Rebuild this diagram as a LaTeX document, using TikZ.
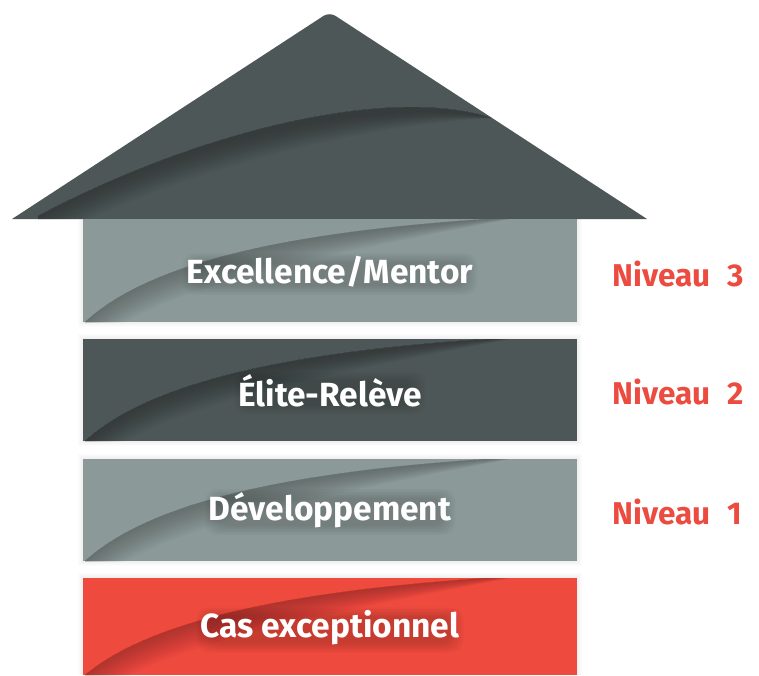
\documentclass[tikz,border=0pt]{standalone}
\usepackage{fontspec}
\setmainfont{Fira Sans}
\definecolor{slate}{HTML}{4E5757}
\definecolor{sage}{HTML}{8B9A99}
\definecolor{tomato}{HTML}{EE4A3E}
\definecolor{lvl}{HTML}{EC4B3F}
\pgfdeclarelayer{bg}
\pgfdeclarelayer{glow}
\pgfsetlayers{bg,glow,main}
\begin{document}
\begin{tikzpicture}[x=1pt,y=-1pt,
  blockbox/.style={rectangle, inner sep=0pt, minimum width=494pt, anchor=north west},
  blocktext/.style={text=white, inner sep=2pt, font=\fontsize{33.5}{36}\selectfont\bfseries},
  leveltext/.style={text=lvl, font=\fontsize{31.5}{34}\selectfont\bfseries, anchor=west}]
\begin{pgfonlayer}{bg}
\useasboundingbox (0,0) rectangle (759,675);
% soft drop shadows
\foreach \s in {1,...,5}{
  \fill[black,opacity=0.012] (83-\s,219) rectangle (577+\s,322+\s);
  \fill[black,opacity=0.012] (83-\s,339-\s) rectangle (577+\s,441+\s);
  \fill[black,opacity=0.012] (83-\s,459-\s) rectangle (577+\s,561+\s);
  \fill[black,opacity=0.012] (83-\s,578-\s) rectangle (577+\s,675);
}
% roof
\fill[slate] (12,219) [rounded corners=7pt] -- (329.5,12) [sharp corners] -- (647,219) -- cycle;
\begin{scope}
  \clip (12,219) -- (329.5,12) -- (647,219) -- cycle;
  \foreach \d in {1,...,16}{
    \fill[black,opacity=0.017] (38,216) .. controls (200,130) and (390,85) .. (492,118)
      .. controls (390,95+1.8*\d) and (200,130+1.8*\d) .. (38,216+1.8*\d) -- cycle;
  }
\end{scope}
% blocks
\node[blockbox, fill=sage, minimum height=103pt] (b1) at (83,219) {};
\node[blockbox, fill=slate, minimum height=102pt] (b2) at (83,339) {};
\node[blockbox, fill=sage, minimum height=102pt] (b3) at (83,459) {};
\node[blockbox, fill=tomato, minimum height=97pt] (b4) at (83,578) {};
% curved shading in each block
\foreach \T/\H in {219/103, 339/102, 459/102, 578/97}{
  \begin{scope}
    \clip (83,\T) rectangle (577,\T+\H);
    \foreach \d in {1,...,16}{
      \fill[black,opacity=0.015] (85,\T+\H) .. controls (153,\T+40) and (303,\T+10) .. (520,\T-2)
        .. controls (303,\T+12+1.8*\d) and (153,\T+40+1.8*\d) .. (85,\T+\H+1.8*\d) -- cycle;
    }
  \end{scope}
}
\end{pgfonlayer}
% texts
\node[blocktext] (t1) at (330,272) {Excellence/Mentor};
\node[blocktext] (t2) at (330,391) {Élite-Relève};
\node[blocktext] (t3) at (330,510) {Développement};
\node[blocktext] (t4) at (330,628) {Cas exceptionnel};
\node[leveltext] (n3) at (609,274) {Niveau\hspace{0.3em} 3};
\node[leveltext] (n2) at (609,392) {Niveau\hspace{0.3em} 2};
\node[leveltext] (n1) at (609,512) {Niveau\hspace{0.3em} 1};
% soft glow behind block texts
\begin{pgfonlayer}{glow}
\foreach \t in {t1,t2,t3,t4}{
  \foreach \s in {0,...,6}{
    \fill[black,opacity=0.022,rounded corners=12pt]
      ([shift={(-2+2*\s,-1+1.5*\s)}]\t.north west) rectangle ([shift={(2-2*\s,5-1.5*\s)}]\t.south east);
  }
}
\end{pgfonlayer}
\end{tikzpicture}
\end{document}
